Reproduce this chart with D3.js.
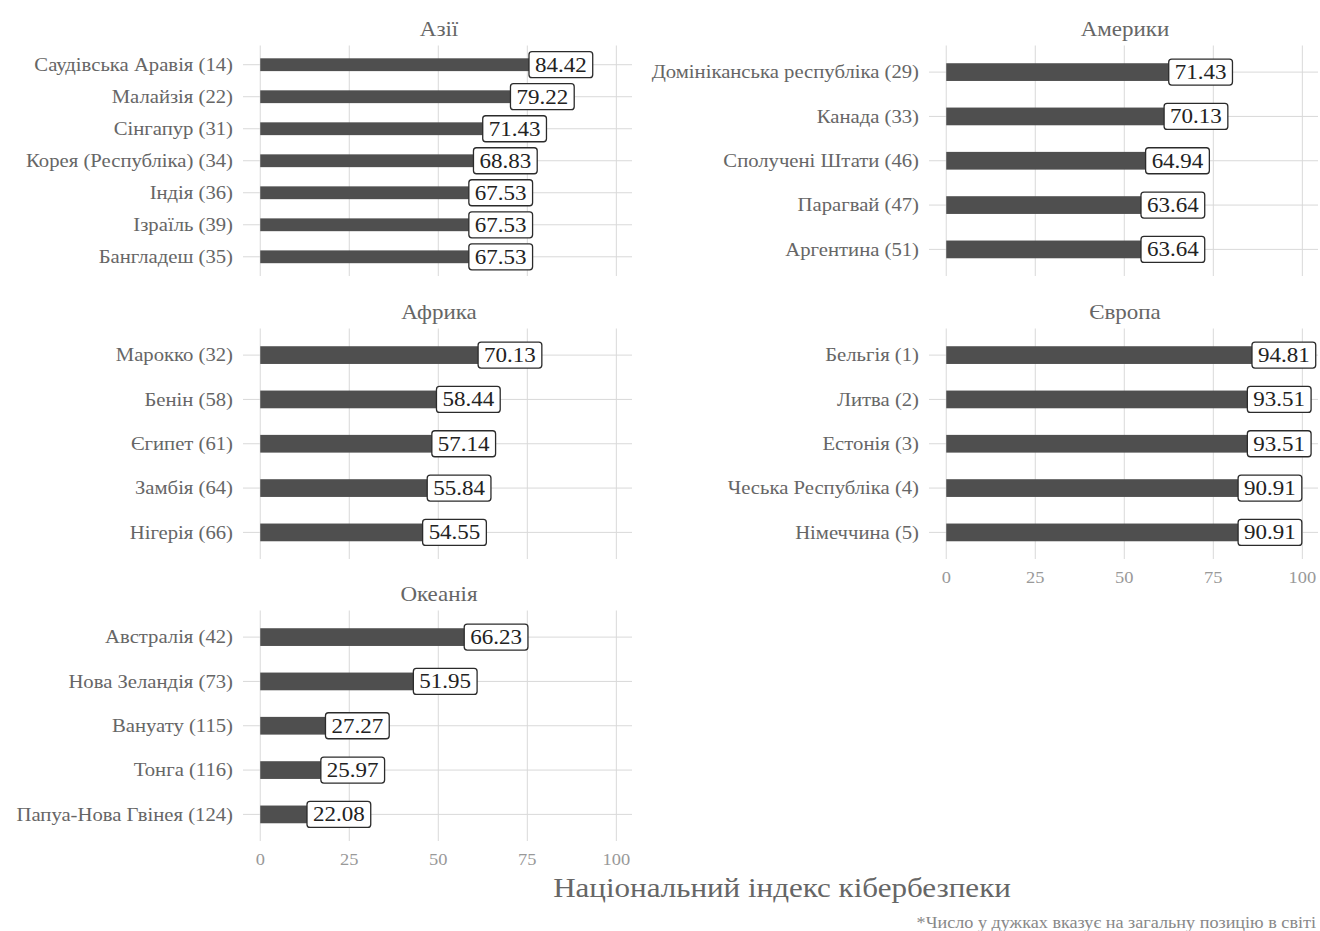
<!DOCTYPE html>
<meta charset="utf-8">
<style type="text/css">
    body { margin: 0; background: #fff; }
    text { font-family: "Liberation Serif", "DejaVu Serif", serif; }
    svg { display: block; }
</style>
<body>
<script src="https://cdn.jsdelivr.net/npm/d3@7"></script>
<script>
// Facet titles
var regions = ["Азії", "Америки", "Африка", "Європа", "Океанія"];

// Countries (rank) and index per region, top to bottom
var asiaNames = ["Саудівська Аравія (14)", "Малайзія (22)", "Сінгапур (31)", "Корея (Республіка) (34)", "Індія (36)", "Ізраїль (39)", "Бангладеш (35)"];
var asiaValues = [84.42, 79.22, 71.43, 68.83, 67.53, 67.53, 67.53];

var americasNames = ["Домініканська республіка (29)", "Канада (33)", "Сполучені Штати (46)", "Парагвай (47)", "Аргентина (51)"];
var americasValues = [71.43, 70.13, 64.94, 63.64, 63.64];

var africaNames = ["Марокко (32)", "Бенін (58)", "Єгипет (61)", "Замбія (64)", "Нігерія (66)"];
var africaValues = [70.13, 58.44, 57.14, 55.84, 54.55];

var europeNames = ["Бельгія (1)", "Литва (2)", "Естонія (3)", "Чеська Республіка (4)", "Німеччина (5)"];
var europeValues = [94.81, 93.51, 93.51, 90.91, 90.91];

var oceaniaNames = ["Австралія (42)", "Нова Зеландія (73)", "Вануату (115)", "Тонга (116)", "Папуа-Нова Гвінея (124)"];
var oceaniaValues = [66.23, 51.95, 27.27, 25.97, 22.08];

var xTicks = [0, 25, 50, 75, 100];
var axisTitle = "Національний індекс кібербезпеки";
var caption = "*Число у дужках вказує на загальну позицію в світі";

var panels = [
    {title: regions[0], names: asiaNames, values: asiaValues},
    {title: regions[1], names: americasNames, values: americasValues},
    {title: regions[2], names: africaNames, values: africaValues},
    {title: regions[3], names: europeNames, values: europeValues},
    {title: regions[4], names: oceaniaNames, values: oceaniaValues}
];

var width = 1320, height = 931;
var colX = [246, 932], panelW = 386;
var rowY = [45.5, 328.5, 610.5], panelH = 230.5;

// the text in the picture is a little wider than plain Times
var S = 1.15;

var barColor = "#4f4f4f", gridColor = "#d9d9d9", textColor = "#666";

var svg = d3.select("body").append("svg")
    .attr("width", width)
    .attr("height", height);

// place a text at (x, y) stretched horizontally
function stretched(sel, fx, fy) {
    sel.attr("transform", function(d, j) {
        return "translate(" + fx(d, j) + "," + fy(d, j) + ") scale(" + S + ",1)";
    });
    return sel;
}

// shared x scale (fixed across facets)
var x = d3.scaleLinear().domain([-4, 104.4]).range([0, panelW]);

panels.forEach(function(p, i) {
    var col = i % 2, row = Math.floor(i / 2);
    var g = svg.append("g")
        .attr("transform", "translate(" + colX[col] + "," + rowY[row] + ")");

    var y = d3.scalePoint().domain(p.names).range([0, panelH]).padding(0.6);
    var bh = y.step() * 0.4;

    // strip title
    g.append("text")
        .attr("transform", "translate(" + panelW / 2 + ",-10) scale(" + S + ",1)")
        .attr("text-anchor", "middle")
        .attr("fill", textColor)
        .style("font-size", "20px")
        .text(p.title);

    // grid
    g.selectAll(".vgrid").data(xTicks).enter().append("line")
        .attr("x1", function(d) { return x(d); })
        .attr("x2", function(d) { return x(d); })
        .attr("y1", 0).attr("y2", panelH)
        .attr("stroke", gridColor).attr("stroke-width", 1);

    g.selectAll(".hgrid").data(p.names).enter().append("line")
        .attr("x1", -3).attr("x2", panelW)
        .attr("y1", function(d) { return y(d); })
        .attr("y2", function(d) { return y(d); })
        .attr("stroke", gridColor).attr("stroke-width", 1);

    // y labels
    g.selectAll(".ylab").data(p.names).enter().append("text")
        .call(stretched, function() { return -13; }, function(d) { return y(d); })
        .attr("dy", "0.35em")
        .attr("text-anchor", "end")
        .attr("fill", textColor)
        .style("font-size", "18px")
        .text(function(d) { return d; });

    // bars
    g.selectAll(".bar").data(p.values).enter().append("rect")
        .attr("x", x(0))
        .attr("y", function(d, j) { return y(p.names[j]) - bh / 2; })
        .attr("width", function(d) { return x(d) - x(0); })
        .attr("height", bh)
        .attr("fill", barColor);

    // value labels (box centred on the value)
    var lab = g.selectAll(".lab").data(p.values).enter().append("g")
        .attr("transform", function(d, j) { return "translate(" + x(d) + "," + y(p.names[j]) + ")"; });
    var box = lab.append("rect")
        .attr("y", -13)
        .attr("height", 26)
        .attr("rx", 3).attr("ry", 3)
        .attr("fill", "#fff")
        .attr("stroke", "#2b2b2b").attr("stroke-width", 1.3);
    var vt = lab.append("text")
        .attr("transform", "scale(" + S + ",1)")
        .attr("text-anchor", "middle")
        .attr("dy", "0.35em")
        .attr("fill", "#222")
        .style("font-size", "20px")
        .text(function(d) { return d.toFixed(2); });
    vt.each(function(d, j) {
        var w = this.getComputedTextLength() * S + 12;
        d3.select(box.nodes()[j]).attr("x", -w / 2).attr("width", w);
    });

    // x tick labels only on panels with nothing below
    if (i >= 3) {
        g.selectAll(".xlab").data(xTicks).enter().append("text")
            .call(stretched, function(d) { return x(d); }, function() { return panelH + 24; })
            .attr("text-anchor", "middle")
            .attr("fill", "#999")
            .style("font-size", "16px")
            .text(function(d) { return d; });
    }
});

// axis title
svg.append("text")
    .attr("transform", "translate(" + (colX[0] + colX[1] + panelW) / 2 + ",897) scale(" + S + ",1)")
    .attr("text-anchor", "middle")
    .attr("fill", "#666")
    .style("font-size", "27px")
    .text(axisTitle);

// caption
svg.append("text")
    .attr("transform", "translate(1316,928) scale(" + S + ",1)")
    .attr("text-anchor", "end")
    .attr("fill", "#888")
    .style("font-size", "15.8px")
    .text(caption);
</script>
</body>
